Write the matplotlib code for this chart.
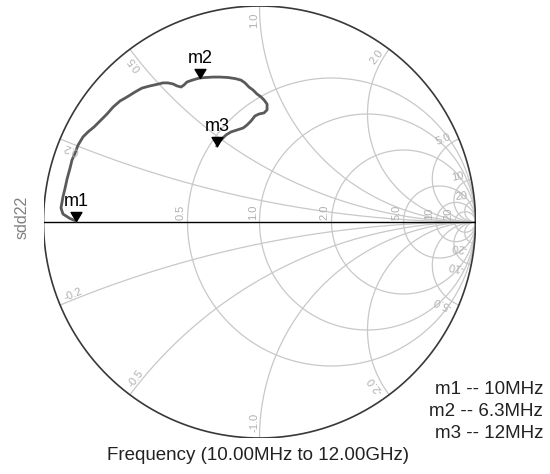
import numpy as np
import matplotlib.pyplot as plt
from matplotlib.path import Path

plt.rcParams['font.family'] = ['Liberation Sans', 'DejaVu Sans']

# smith chart grid values
r_values = [0.5, 1.0, 2.0, 5.0, 10.0, 20.0]
r_labels = ['0.5', '1.0', '2.0', '5.0', '10', '20']
x_values = [0.2, 0.5, 1.0, 2.0, 5.0, 10.0, 20.0]
x_labels = ['0.2', '0.5', '1.0', '2.0', '5.0', '10', '20']

gamma_re = [-0.850, -0.877, -0.910, -0.919, -0.910, -0.900, -0.891, -0.877, -0.868, -0.854,
            -0.840, -0.817, -0.794, -0.766, -0.738, -0.706, -0.678, -0.646, -0.613, -0.576,
            -0.544, -0.507, -0.475, -0.447, -0.424, -0.400, -0.382, -0.363, -0.350, -0.336,
            -0.317, -0.294, -0.275, -0.248, -0.215, -0.183, -0.146, -0.113, -0.086, -0.067,
            -0.049, -0.030, -0.012, 0.007, 0.021, 0.035, 0.035, 0.021, -0.002, -0.021,
            -0.039, -0.058, -0.076, -0.104, -0.132, -0.155, -0.174, -0.188, -0.197]
gamma_im = [0.005, 0.016, 0.037, 0.065, 0.116, 0.157, 0.199, 0.250, 0.287, 0.319,
            0.356, 0.394, 0.417, 0.440, 0.468, 0.500, 0.532, 0.560, 0.579, 0.602,
            0.620, 0.630, 0.637, 0.644, 0.644, 0.639, 0.630, 0.625, 0.634, 0.648,
            0.655, 0.662, 0.667, 0.669, 0.671, 0.671, 0.669, 0.664, 0.657, 0.644,
            0.625, 0.611, 0.593, 0.579, 0.565, 0.546, 0.519, 0.505, 0.500, 0.491,
            0.468, 0.449, 0.435, 0.426, 0.417, 0.403, 0.384, 0.370, 0.352]

marker_names = ['m1', 'm2', 'm3']
marker_freqs = ['10MHz', '6.3MHz', '12MHz']
marker_idx = [0, 32, 58]

grid_col = '#c8c8c8'
label_col = '#b0b0b0'

fig = plt.figure(figsize=(5.5, 4.74), dpi=100)
ax = fig.add_axes([43.5 / 550, 36 / 474, 432 / 550, 432 / 474])
ax.set_xlim(-1, 1)
ax.set_ylim(-1, 1)
ax.axis('off')

t = np.linspace(0, 2 * np.pi, 400)

# constant resistance circles
for r, lab in zip(r_values, r_labels):
    c = r / (1 + r)
    rad = 1 / (1 + r)
    ax.plot(c + rad * np.cos(t), rad * np.sin(t), color=grid_col, lw=0.9)
    g = (r - 1) / (r + 1)
    ax.text(g - 0.008, 0.01, lab, rotation=90, rotation_mode='anchor',
            ha='left', va='bottom', fontsize=8, color=label_col)

# constant reactance arcs
rr = np.concatenate([np.linspace(0, 1, 200), np.logspace(0, 4, 300)])
for x, lab in zip(x_values, x_labels):
    for sgn in (1, -1):
        z = rr + 1j * sgn * x
        g = (z - 1) / (z + 1)
        ax.plot(g.real, g.imag, color=grid_col, lw=0.9)
        p = (1j * sgn * x - 1) / (1j * sgn * x + 1)
        th = np.degrees(np.angle(p))
        a = 0.97 * p
        if sgn > 0:
            ax.text(a.real, a.imag, lab, rotation=th, rotation_mode='anchor',
                    ha='right', va='bottom', fontsize=8, color=label_col)
        else:
            ax.text(a.real, a.imag, '-' + lab, rotation=th + 180, rotation_mode='anchor',
                    ha='left', va='bottom', fontsize=8, color=label_col)

# outer circle and real axis
ax.plot(np.cos(t), np.sin(t), color='#383838', lw=1.2)
ax.plot([-1, 1], [0, 0], color='black', lw=1)

# trace
ax.plot(gamma_re, gamma_im, color='#5a5a5a', lw=2, solid_joinstyle='round')

# markers, tip on the point
tri = Path([(0, 0), (-0.6, 1), (0.6, 1), (0, 0)],
           [Path.MOVETO, Path.LINETO, Path.LINETO, Path.CLOSEPOLY])
for name, i in zip(marker_names, marker_idx):
    ax.plot(gamma_re[i], gamma_im[i], marker=tri, ms=13, color='black', ls='none')
    ax.annotate(name, (gamma_re[i], gamma_im[i]), xytext=(0, 14),
                textcoords='offset points', ha='center', va='center', fontsize=13)

fig.text(22 / 550, 1 - 217 / 474, 'sdd22', rotation=90, ha='center', va='center',
         fontsize=11.5, color='#808080')
fig.text(258 / 550, 1 - 456 / 474, 'Frequency (10.00MHz to 12.00GHz)',
         ha='center', va='center', fontsize=13.5, color='#222222')

for k, (name, f) in enumerate(zip(marker_names, marker_freqs)):
    fig.text(543 / 550, 1 - (389.5 + 22 * k) / 474, name + ' -- ' + f,
             ha='right', va='center', fontsize=13.5, color='#222222')

fig.savefig('out.png', dpi=100)
